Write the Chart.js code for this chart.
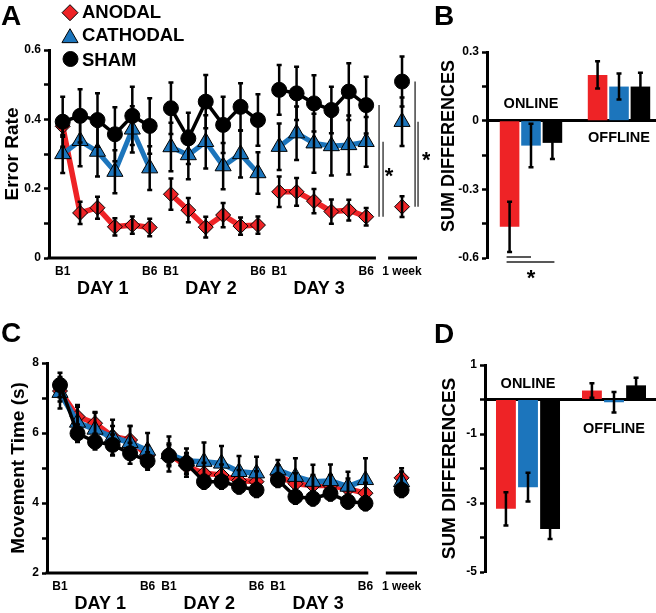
<!DOCTYPE html>
<html><head><meta charset="utf-8">
<script src="https://cdn.jsdelivr.net/npm/chart.js@4.4.1/dist/chart.umd.min.js"></script>
<style>
html,body{margin:0;padding:0;background:#fff;width:656px;height:613px;overflow:hidden;position:relative}
canvas{position:absolute}
</style></head><body>
<canvas id="cA" width="430" height="310" style="left:0;top:0"></canvas>
<canvas id="cB" width="240" height="300" style="left:430px;top:0"></canvas>
<canvas id="cC" width="430" height="303" style="left:0;top:310px"></canvas>
<canvas id="cD" width="240" height="303" style="left:430px;top:310px"></canvas>
<script>
// ---------------- DATA ----------------
const groups = ['ANODAL', 'CATHODAL', 'SHAM'];
const days = ['DAY 1', 'DAY 2', 'DAY 3'];
const tickLabels = ['B1', 'B6', 'B1', 'B6', 'B1', 'B6', '1 week'];
const phases = ['ONLINE', 'OFFLINE'];

// Panel A: error rate, 3 days x 6 blocks + 1 week retention
const errRateAnodal   = [0.38, 0.13, 0.145, 0.09, 0.095, 0.088,  0.184, 0.138, 0.089, 0.124, 0.092, 0.095,  0.191, 0.191, 0.164, 0.134, 0.138, 0.119,  0.148];
const errRateAnodalSE = [0.03, 0.032, 0.032, 0.025, 0.025, 0.025, 0.045, 0.035, 0.03, 0.035, 0.025, 0.025, 0.044, 0.04, 0.035, 0.035, 0.03, 0.025, 0.03];
const errRateCath     = [0.30, 0.338, 0.307, 0.249, 0.371, 0.259,  0.32, 0.297, 0.335, 0.265, 0.30, 0.245,  0.321, 0.36, 0.331, 0.323, 0.326, 0.335,  0.393];
const errRateCathSE   = [0.055, 0.073, 0.072, 0.062, 0.067, 0.063, 0.07, 0.07, 0.077, 0.067, 0.068, 0.06, 0.067, 0.077, 0.085, 0.085, 0.085, 0.072, 0.07];
const errRateSham     = [0.393, 0.41, 0.398, 0.357, 0.41, 0.381,  0.432, 0.345, 0.451, 0.384, 0.436, 0.398,  0.485, 0.475, 0.446, 0.427, 0.48, 0.441,  0.509];
const errRateShamSE   = [0.072, 0.077, 0.077, 0.078, 0.084, 0.08, 0.074, 0.074, 0.077, 0.081, 0.068, 0.074, 0.072, 0.077, 0.081, 0.067, 0.082, 0.082, 0.072];

// Panel B: sum differences of error rate
const sumErrAnodal = [-0.464, 0.2],  sumErrAnodalSE = [0.11, 0.06];
const sumErrCath   = [-0.109, 0.149], sumErrCathSE = [0.095, 0.057];
const sumErrSham   = [-0.097, 0.149], sumErrShamSE = [0.07, 0.06];

// Panel C: movement time (s)
const mtAnodal   = [7.2, 6.47, 6.28, 5.9, 5.8, 5.35,  5.4, 5.05, 4.85, 4.8, 4.64, 4.61,  4.78, 4.55, 4.5, 4.5, 4.4, 4.28,  4.72];
const mtAnodalSE = [0.3, 0.33, 0.3, 0.3, 0.4, 0.3,  0.3, 0.3, 0.3, 0.3, 0.3, 0.3,  0.3, 0.3, 0.3, 0.3, 0.3, 0.3,  0.27];
const mtCath     = [7.15, 6.3, 6.1, 5.88, 5.72, 5.5,  5.4, 5.2, 5.18, 5.13, 4.89, 4.85,  4.94, 4.75, 4.61, 4.63, 4.47, 4.66,  4.6];
const mtCathSE   = [0.45, 0.45, 0.5, 0.5, 0.48, 0.5,  0.5, 0.36, 0.55, 0.5, 0.45, 0.47,  0.29, 0.53, 0.48, 0.47, 0.42, 0.62,  0.3];
const mtSham     = [7.37, 5.99, 5.75, 5.66, 5.42, 5.2,  5.35, 5.13, 4.61, 4.61, 4.47, 4.37,  4.66, 4.18, 4.13, 4.27, 4.04, 3.99,  4.37];
const mtShamSE   = [0.35, 0.25, 0.22, 0.3, 0.3, 0.25,  0.3, 0.3, 0.2, 0.2, 0.2, 0.2,  0.2, 0.2, 0.2, 0.2, 0.2, 0.2,  0.2];

// Panel D: sum differences of movement time
const sumMtAnodal = [-3.17, 0.26], sumMtAnodalSE = [0.48, 0.21];
const sumMtCath   = [-2.54, -0.08], sumMtCathSE = [0.42, 0.3];
const sumMtSham   = [-3.75, 0.41], sumMtShamSE = [0.29, 0.22];

// ---------------- LAYOUT / STYLE ----------------
const RED = '#ee2326', BLUE = '#1c75bc', BLACK = '#000000';
const FONT = '"Liberation Sans", Arial, Helvetica, sans-serif';
Chart.defaults.font.family = FONT;
Chart.defaults.font.weight = 'bold';
Chart.defaults.color = '#000';
const DAY_STEP = 6.22, WEEK_X = 19.5;
const blockX = i => i < 18 ? Math.floor(i / 6) * DAY_STEP + (i % 6) : WEEK_X;
const tickPos = [0, 5, DAY_STEP, DAY_STEP + 5, 2 * DAY_STEP, 2 * DAY_STEP + 5, WEEK_X];

function toPoints(vals) {
  const out = [];
  vals.forEach((v, i) => { if (i > 0 && i % 6 === 0) out.push({x: blockX(i) - 0.5, y: null}); out.push({x: blockX(i), y: v}); });
  return out;
}
function toErr(errs) {
  const out = [];
  errs.forEach((e, i) => { if (i > 0 && i % 6 === 0) out.push(null); out.push(e); });
  return out;
}
function lineDs(label, vals, errs, color, style, radius, lw, order) {
  return {label, data: toPoints(vals), errors: toErr(errs), borderColor: color, backgroundColor: color,
    borderWidth: lw, pointStyle: style, pointRadius: radius, pointBackgroundColor: color,
    pointBorderColor: '#000', pointBorderWidth: 1, spanGaps: false, order, tension: 0,
    borderJoinStyle: 'round', clip: false};
}
function barDs(label, vals, errs, color, cp, bp) {
  return {label, data: vals, errors: errs, backgroundColor: color, borderWidth: 0, categoryPercentage: cp, barPercentage: bp};
}

const errorBars = {
  id: 'errorBars',
  afterDatasetsDraw(chart) {
    const ctx = chart.ctx, ys = chart.scales.y, cap = 2.5;
    ctx.save(); ctx.strokeStyle = '#000'; ctx.lineWidth = 2.5;
    chart.data.datasets.forEach((ds, di) => {
      if (!ds.errors) return;
      const meta = chart.getDatasetMeta(di);
      meta.data.forEach((el, i) => {
        const raw = ds.data[i];
        const v = (raw !== null && typeof raw === 'object') ? raw.y : raw;
        const e = ds.errors[i];
        if (v == null || e == null) return;
        const x = el.x, y1 = ys.getPixelForValue(v + e), y2 = ys.getPixelForValue(v - e);
        ctx.beginPath();
        ctx.moveTo(x, y1); ctx.lineTo(x, y2);
        ctx.moveTo(x - cap, y1); ctx.lineTo(x + cap, y1);
        ctx.moveTo(x - cap, y2); ctx.lineTo(x + cap, y2);
        ctx.stroke();
      });
    });
    ctx.restore();
  }
};

function text(ctx, s, x, y, size, align, baseline) {
  ctx.font = 'bold ' + size + 'px ' + FONT;
  ctx.textAlign = align || 'left';
  ctx.textBaseline = baseline || 'alphabetic';
  ctx.fillStyle = '#000';
  ctx.fillText(s, x, y);
}
function asterisk(ctx, x, yc, size) { text(ctx, '*', x, yc + 0.58 * size, size, 'center'); }

function brokenAxis(chart, breakA, breakB) {
  const {ctx, scales: {x, y}} = chart;
  const y0 = y.getPixelForValue(y.min);
  ctx.save(); ctx.strokeStyle = '#000'; ctx.lineWidth = 3;
  ctx.beginPath();
  ctx.moveTo(x.left - 1.5, y0); ctx.lineTo(x.getPixelForValue(breakA), y0);
  ctx.moveTo(x.getPixelForValue(breakB), y0); ctx.lineTo(x.right, y0);
  ctx.stroke(); ctx.restore();
  days.forEach((d, i) => text(ctx, d, x.getPixelForValue(i * DAY_STEP + 2.3), y0 + 31, 18, 'center', 'middle'));
}

function drawMarker(ctx, style, r, color, x, y) {
  ctx.save(); ctx.fillStyle = color; ctx.strokeStyle = '#000'; ctx.lineWidth = 1;
  Chart.helpers.drawPoint(ctx, {pointStyle: style, radius: r, borderWidth: 1, rotation: 0}, x, y);
  ctx.restore();
}

function lineScales(cfg) {
  return {
    x: {type: 'linear', min: cfg.xmin, max: cfg.xmax,
      afterBuildTicks: s => { s.ticks = tickPos.map(v => ({value: v})); },
      ticks: {autoSkip: false, maxRotation: 0, padding: 6, font: {size: 12, weight: 'bold'}, color: '#000',
        callback: (v, i) => tickLabels[i]},
      grid: {display: false, drawTicks: false}, border: {display: false},
      afterFit: s => { s.height = 30; }},
    y: {min: cfg.ymin, max: cfg.ymax,
      ticks: {stepSize: cfg.step, padding: 3, font: {size: 12, weight: 'bold'}, color: '#000', callback: cfg.label},
      grid: {drawOnChartArea: false, drawTicks: true, tickLength: 5, tickWidth: 2.5, tickColor: '#000'},
      border: {display: true, width: 3, color: '#000'},
      title: {display: true, text: cfg.title, color: '#000', font: {size: 19, weight: 'bold'}, padding: {top: cfg.titlePad, bottom: 0}},
      afterFit: s => { s.width = cfg.yWidth; }}
  };
}
const baseOpts = {responsive: false, animation: false, devicePixelRatio: 1,
  plugins: {legend: {display: false}, tooltip: {enabled: false}}};

// ---------------- PANEL A ----------------
const panelA = {
  id: 'panelA',
  afterDraw(chart) {
    const {ctx, scales: {x, y}} = chart;
    brokenAxis(chart, 18.0, 18.7);
    text(ctx, 'A', 1, 25, 28);
    drawMarker(ctx, 'rectRot', 8, RED, 70, 12.7);
    drawMarker(ctx, 'triangle', 9.3, BLUE, 70, 38);
    drawMarker(ctx, 'circle', 7.5, BLACK, 70.5, 59);
    text(ctx, groups[0], 82, 18, 18.5);
    text(ctx, groups[1], 82, 41, 18.5);
    text(ctx, groups[2], 82, 65.5, 18.5);
    // significance: last block of day 3 and 1-week retention
    ctx.save(); ctx.strokeStyle = '#444'; ctx.lineWidth = 1.5;
    const pairs = [
      {x1: blockX(17) + 0.74, x2: blockX(17) + 0.97, i: 17, ax: blockX(17) + 1.31},
      {x1: WEEK_X + 0.75, x2: WEEK_X + 0.92, i: 18, ax: WEEK_X + 1.4}
    ];
    pairs.forEach(p => {
      const ys = y.getPixelForValue(errRateSham[p.i]), yc = y.getPixelForValue(errRateCath[p.i]), ya = y.getPixelForValue(errRateAnodal[p.i]);
      ctx.beginPath();
      ctx.moveTo(x.getPixelForValue(p.x1), ys); ctx.lineTo(x.getPixelForValue(p.x1), ya);
      ctx.moveTo(x.getPixelForValue(p.x2), yc); ctx.lineTo(x.getPixelForValue(p.x2), ya);
      ctx.stroke();
      asterisk(ctx, x.getPixelForValue(p.ax), ((ys + ya) / 2 + (yc + ya) / 2) / 2, 22);
    });
    ctx.restore();
  }
};
new Chart(document.getElementById('cA'), {
  type: 'line',
  data: {datasets: [
    lineDs(groups[2], errRateSham, errRateShamSE, BLACK, 'circle', 7.5, 3.5, 1),
    lineDs(groups[1], errRateCath, errRateCathSE, BLUE, 'triangle', 9.3, 5, 2),
    lineDs(groups[0], errRateAnodal, errRateAnodalSE, RED, 'rectRot', 7.5, 5.5, 3)
  ]},
  options: Object.assign({}, baseOpts, {
    layout: {padding: {left: 0, top: 50, right: 13, bottom: 22}},
    scales: lineScales({xmin: -0.787, xmax: 20.36, ymin: 0, ymax: 0.6, step: 0.1, yWidth: 49, titlePad: 1.6,
      title: 'Error Rate', label: v => (Math.round(v * 10) % 2 === 0 ? String(Math.round(v * 10) / 10) : '')})
  }),
  plugins: [errorBars, panelA]
});

// ---------------- PANEL C ----------------
const panelC = {
  id: 'panelC',
  afterDraw(chart) {
    brokenAxis(chart, 17.6, 18.6);
    text(chart.ctx, 'C', 1, 32, 28);
  }
};
new Chart(document.getElementById('cC'), {
  type: 'line',
  data: {datasets: [
    lineDs(groups[2], mtSham, mtShamSE, BLACK, 'circle', 7.5, 3.5, 1),
    lineDs(groups[1], mtCath, mtCathSE, BLUE, 'triangle', 9.3, 5.5, 2),
    lineDs(groups[0], mtAnodal, mtAnodalSE, RED, 'rectRot', 7.5, 5.5, 3)
  ]},
  options: Object.assign({}, baseOpts, {
    layout: {padding: {left: 0, top: 53, right: 13, bottom: 10}},
    scales: lineScales({xmin: -0.742, xmax: 20.38, ymin: 2, ymax: 8, step: 1, yWidth: 47, titlePad: 7.1,
      title: 'Movement Time (s)', label: v => (Math.round(v) % 2 === 0 ? String(Math.round(v)) : '')})
  }),
  plugins: [errorBars, panelC]
});

// ---------------- BAR PANELS ----------------
function barScales(cfg) {
  return {
    x: {position: {y: 0}, grid: {display: false}, ticks: {display: false},
      border: {display: true, width: 3, color: '#000'}},
    y: {min: cfg.ymin, max: cfg.ymax,
      ticks: {stepSize: cfg.step, padding: 3, font: {size: 12, weight: 'bold'}, color: '#000', callback: cfg.label},
      grid: {drawOnChartArea: false, drawTicks: true, tickLength: 5, tickWidth: 2.5, tickColor: '#000'},
      border: {display: true, width: 3, color: '#000'},
      title: cfg.title ? {display: true, text: cfg.title, color: '#000', font: {size: 19, weight: 'bold'}, padding: {top: cfg.titlePad, bottom: 0}} : {display: false},
      afterFit: s => { s.width = cfg.yWidth; }}
  };
}
function phaseLabels(chart, dyOn, dyOff) {
  const {ctx, scales: {x, y}} = chart;
  const y0 = y.getPixelForValue(0);
  text(ctx, phases[0], x.getPixelForValue(0), y0 + dyOn, 14.5, 'center', 'middle');
  text(ctx, phases[1], x.getPixelForValue(1), y0 + dyOff, 14.5, 'center', 'middle');
}

const panelB = {
  id: 'panelB',
  afterDraw(chart) {
    const {ctx, scales: {y}} = chart;
    text(ctx, 'B', 4, 25, 28);
    ctx.save(); ctx.translate(19, 146); ctx.rotate(-Math.PI / 2);
    text(ctx, 'SUM DIFFERENCES', 0, 0, 18, 'center', 'middle'); ctx.restore();
    phaseLabels(chart, -17, 17);
    // significance below ONLINE bars
    const xr = chart.getDatasetMeta(0).data[0].x, xc = chart.getDatasetMeta(1).data[0].x, xs = chart.getDatasetMeta(2).data[0].x;
    const yl = y.getPixelForValue(sumErrAnodal[0] - sumErrAnodalSE[0]);
    ctx.save(); ctx.strokeStyle = '#222'; ctx.lineWidth = 1.5; ctx.beginPath();
    ctx.moveTo(xr - 3, yl + 5); ctx.lineTo(xc, yl + 5);
    ctx.moveTo(xr - 3, yl + 10); ctx.lineTo(xs + 2, yl + 10);
    ctx.stroke(); ctx.restore();
    asterisk(ctx, (xr + xs) / 2, yl + 20, 22);
  }
};
new Chart(document.getElementById('cB'), {
  type: 'bar',
  data: {labels: phases, datasets: [
    barDs(groups[0], sumErrAnodal, sumErrAnodalSE, RED, 0.73, 0.915),
    barDs(groups[1], sumErrCath, sumErrCathSE, BLUE, 0.73, 0.915),
    barDs(groups[2], sumErrSham, sumErrShamSE, BLACK, 0.73, 0.915)
  ]},
  options: Object.assign({}, baseOpts, {
    layout: {padding: {left: 0, top: 52, right: 7, bottom: 42}},
    scales: barScales({ymin: -0.6, ymax: 0.3, step: 0.15, yWidth: 57,
      label: v => (Math.round(v / 0.15) % 2 === 0 ? String(Math.round(v * 10) / 10) : '')})
  }),
  plugins: [errorBars, panelB]
});

const panelD = {
  id: 'panelD',
  afterDraw(chart) {
    text(chart.ctx, 'D', 4, 33, 28);
    phaseLabels(chart, -16, 29);
  }
};
new Chart(document.getElementById('cD'), {
  type: 'bar',
  data: {labels: phases, datasets: [
    barDs(groups[0], sumMtAnodal, sumMtAnodalSE, RED, 0.77, 0.9),
    barDs(groups[1], sumMtCath, sumMtCathSE, BLUE, 0.77, 0.9),
    barDs(groups[2], sumMtSham, sumMtShamSE, BLACK, 0.77, 0.9)
  ]},
  options: Object.assign({}, baseOpts, {
    layout: {padding: {left: 0, top: 55, right: 13, bottom: 41}},
    scales: barScales({ymin: -5, ymax: 1, step: 1, yWidth: 55, title: 'SUM DIFFERENCES', titlePad: 8.6,
      label: v => (Math.abs(Math.round(v)) % 2 === 1 ? String(Math.round(v)) : '')})
  }),
  plugins: [errorBars, panelD]
});
</script>
</body></html>
